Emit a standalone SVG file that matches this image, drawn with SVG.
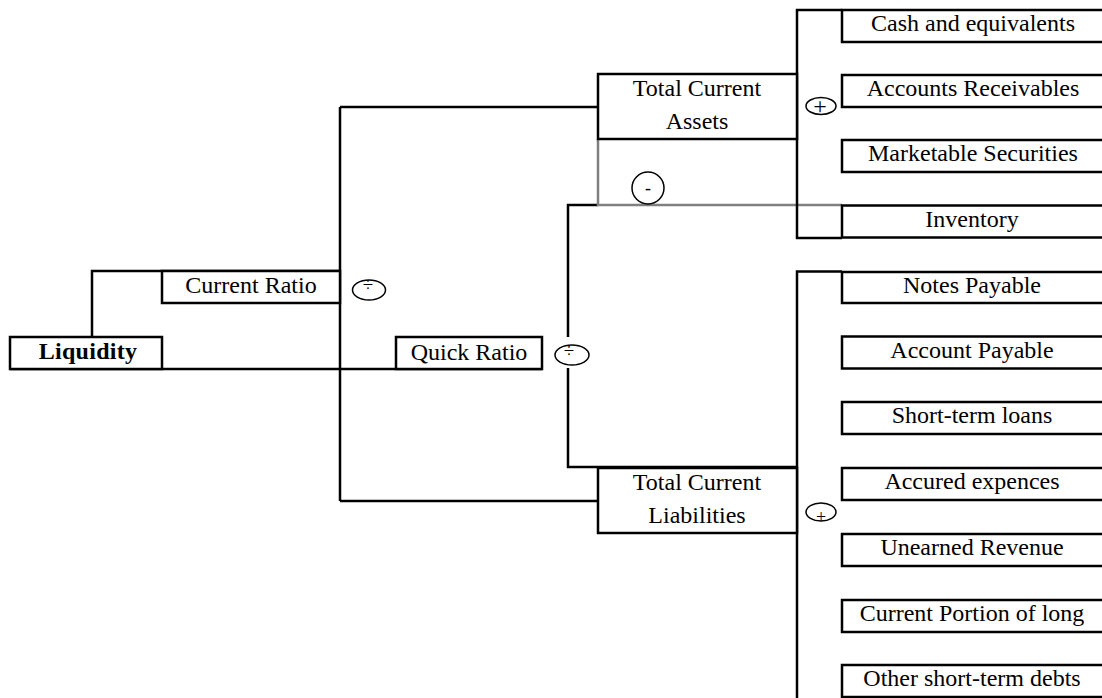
<svg xmlns="http://www.w3.org/2000/svg" width="1102" height="698" viewBox="0 0 1102 698">
<style>
.box{fill:#fff;stroke:#000;stroke-width:2.5}
.ln{fill:none;stroke:#000;stroke-width:2.5}
.gray{fill:none;stroke:#808080;stroke-width:2.5}
.op{fill:#fff;stroke:#000;stroke-width:1.5}
.t{font-family:"Liberation Serif","Times New Roman",serif;font-size:24px;fill:#000;text-anchor:middle}
.b{font-weight:bold}
.sym{font-family:"Liberation Serif","Times New Roman",serif;fill:#000;text-anchor:middle}
</style>
<rect width="1102" height="698" fill="#fff"/>
<g id="connectors">
  <polyline class="ln" points="92,337 92,271 340,271"/>
  <line class="ln" x1="340" y1="107" x2="340" y2="501"/>
  <line class="ln" x1="340" y1="107" x2="598" y2="107"/>
  <line class="ln" x1="340" y1="501" x2="598" y2="501"/>
  <line class="ln" x1="10" y1="369" x2="542" y2="369"/>
  <polyline class="ln" points="598,205 568,205 568,337"/>
  <polyline class="ln" points="568,368 568,467 797,467"/>
  <polyline class="gray" points="598,139 598,205 842,205"/>
  <polyline class="ln" points="842,10 797,10 797,238 842,238"/>
  <polyline class="ln" points="842,271.5 797,271.5 797,700"/>
</g>
<g id="liquidity">
  <rect class="box" x="10" y="337" width="152" height="32"/>
  <text class="t b" x="88" y="359" letter-spacing="0.3">Liquidity</text>
</g>
<g id="current-ratio">
  <rect class="box" x="162" y="271" width="178" height="32"/>
  <text class="t" x="251" y="293">Current Ratio</text>
</g>
<g id="quick-ratio">
  <rect class="box" x="396" y="337" width="146" height="32"/>
  <text class="t" x="469" y="360">Quick Ratio</text>
</g>
<g id="op-div-current">
  <ellipse class="op" cx="369" cy="290" rx="16.5" ry="10"/>
  <text class="sym" x="368" y="291" font-size="19">÷</text>
</g>
<g id="op-div-quick">
  <ellipse class="op" cx="572" cy="355" rx="17" ry="10"/>
  <text class="sym" x="569" y="357" font-size="19">÷</text>
</g>
<g id="total-current-assets">
  <rect class="box" x="598" y="74" width="199" height="65"/>
  <text class="t" x="697" y="96">Total Current</text>
  <text class="t" x="697" y="129">Assets</text>
</g>
<g id="total-current-liabilities">
  <rect class="box" x="598" y="468" width="199" height="65"/>
  <text class="t" x="697" y="490">Total Current</text>
  <text class="t" x="697" y="523">Liabilities</text>
</g>
<g id="op-minus">
  <circle class="op" cx="648" cy="188" r="16"/>
  <text class="sym" x="648" y="194" font-size="18">-</text>
</g>
<g id="op-plus-assets">
  <ellipse class="op" cx="821" cy="106" rx="15" ry="8.5"/>
  <text class="sym" x="820" y="114" font-size="24">+</text>
</g>
<g id="op-plus-liabilities">
  <ellipse class="op" cx="821" cy="512" rx="15" ry="9"/>
  <text class="sym" x="821" y="523" font-size="18">+</text>
</g>
<g id="cash">
  <rect class="box" x="842" y="10" width="264" height="32"/>
  <text class="t" x="973" y="31">Cash and equivalents</text>
</g>
<g id="accounts-receivables">
  <rect class="box" x="842" y="75" width="264" height="32"/>
  <text class="t" x="973" y="96">Accounts Receivables</text>
</g>
<g id="marketable-securities">
  <rect class="box" x="842" y="140" width="264" height="32"/>
  <text class="t" x="973" y="161">Marketable Securities</text>
</g>
<g id="inventory">
  <rect class="box" x="842" y="205.5" width="264" height="32"/>
  <text class="t" x="972" y="227">Inventory</text>
</g>
<g id="notes-payable">
  <rect class="box" x="842" y="272" width="264" height="31"/>
  <text class="t" x="972" y="293">Notes Payable</text>
</g>
<g id="account-payable">
  <rect class="box" x="842" y="336.5" width="264" height="32"/>
  <text class="t" x="972" y="358">Account Payable</text>
</g>
<g id="short-term-loans">
  <rect class="box" x="842" y="402" width="264" height="32"/>
  <text class="t" x="972" y="423">Short-term loans</text>
</g>
<g id="accured-expences">
  <rect class="box" x="842" y="468" width="264" height="32"/>
  <text class="t" x="972" y="489">Accured expences</text>
</g>
<g id="unearned-revenue">
  <rect class="box" x="842" y="534" width="264" height="32"/>
  <text class="t" x="972" y="555">Unearned Revenue</text>
</g>
<g id="current-portion">
  <rect class="box" x="842" y="600" width="264" height="32"/>
  <text class="t" x="972" y="621">Current Portion of long</text>
</g>
<g id="other-debts">
  <rect class="box" x="842" y="665" width="264" height="32"/>
  <text class="t" x="972" y="686">Other short-term debts</text>
</g>
</svg>
